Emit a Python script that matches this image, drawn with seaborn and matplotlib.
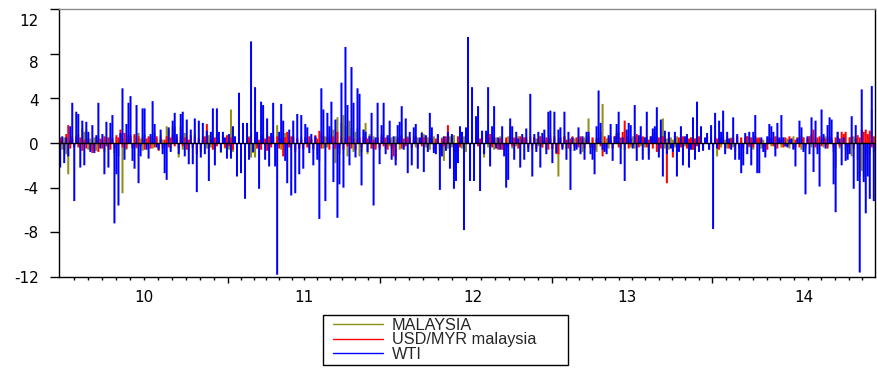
import numpy as np
import pandas as pd
import matplotlib
matplotlib.use("Agg")
import matplotlib.pyplot as plt
import seaborn as sns
from matplotlib.lines import Line2D
from matplotlib.legend_handler import HandlerLine2D
from matplotlib.transforms import ScaledTranslation

# Daily returns (%), 2010-2014, one value per observation
wti = [
    -2.2, 0.6, -1.8, 0.5, -1.2, 1.5, 3.6, -5.2, 2.8, 2.6,
    -2.2, 2.0, -2.0, 1.9, 1.0, -0.8, 1.6, -0.9, 0.7, 3.6,
    -0.5, 0.8, -2.8, 1.9, -2.2, 1.8, 2.5, -7.2, -2.8, -5.6,
    0.9, 4.9, -1.5, 1.7, 3.6, 4.2, -1.6, -2.3, 3.4, -3.6,
    -1.2, 3.1, 3.1, -0.6, -1.4, 0.8, 3.75, 1.7, -0.4, -0.6,
    1.2, -1.0, -2.7, -3.3, 1.4, -0.8, 2.0, 2.7,
    0.8, -1.0, 2.6, 2.8, -1.2, 2.1, -1.9, 1.2, -1.9, 2.2,
    -4.4, 2.0, -1.3, 1.8, -1.0, 1.1, -3.4, 1.0, 3.1, -2.0,
    3.1, 1.0, -0.8, 1.0, 0.5, -1.4, 0.8, -1.4, 1.5, 0.6,
    -3.0, 4.5, -2.7, 1.8, -5.0, 1.8, -1.5, 9.1, -0.8, 5.0,
    1.0, -4.1, 3.7, 3.4, -1.5, 2.2, -2.1, 0.9, 3.6, -2.1,
    -11.8, 1.0, 3.5, 2.0, -1.6, -3.6, 1.2, -4.7,
    2.0, -4.5, 2.6, -2.8, 2.5, -2.3, 1.7, 1.4, -0.9, 0.8,
    -2.0, 0.6, -1.5, -6.8, 4.9, 3.0, -5.2, 2.7, 1.5, 3.7,
    -3.5, 2.1, -6.7, -3.7, 5.4, -4.0, 8.6, 3.4, -2.0, 6.8,
    3.6, -1.3, 4.9, 4.4, -3.8, 1.2, 1.0, -0.8, 0.6, 2.7,
    -5.6, 0.5, 3.6, -1.9, 1.6, 3.6, -1.0, 0.7, 2.0, -1.5,
    0.6, -2.0, 1.6, 1.9, 3.3, -0.6, 2.2, -2.7,
    1.0, -2.0, 1.4, 1.7, -2.3, 0.5, 0.9, -2.6, 0.7, -0.8,
    2.7, 1.4, -0.9, -1.0, 0.8, -4.2, -1.2, 0.6, -0.7, 1.0,
    -2.3, 0.8, -4.1, -3.4, -1.8, 1.5, 1.0, -7.8, 1.4, 9.5,
    -3.4, 5.0, -3.4, 2.4, 3.3, -4.3, 1.1, -1.0, 1.1, 5.0,
    -2.1, 1.5, 3.3, -0.5, 0.5, -0.6, 1.5, -1.2, -4.0, -3.3,
    2.2, 1.5, -1.5, 1.0, 0.4, -2.2, 0.8, -1.5,
    1.3, -0.8, 4.4, -3.0, 0.8, -0.8, 1.0, -2.2, 0.9, 1.2,
    -1.0, 2.8, 2.9, -1.8, 2.8, -0.9, 1.2, 1.4, -0.6, 2.8,
    -1.5, 1.0, -4.2, 0.5, -0.7, -0.6, 1.4, -1.0, 0.6, -1.5,
    1.0, 1.0, -1.0, -1.5, -2.8, 1.5, 4.7, 1.8, -0.6, -0.8,
    -1.0, 0.7, 1.7, -1.6, 0.6, 1.7, 2.8, -1.9, 0.5, -3.4,
    1.2, 1.8, 1.6, -0.5, 3.4, -1.6, 0.7, 1.5,
    -1.5, 0.5, 2.8, -1.5, 0.6, 1.3, 1.5, 3.2, -1.3, 2.1,
    -3.0, 1.1, -1.0, 1.0, -0.5, -0.8, 1.0, -3.0, -0.8, 1.5,
    -2.0, 0.6, 0.8, -2.2, -0.6, 2.3, -1.5, 3.7, -0.8, 1.5,
    -0.7, 0.5, 0.9, -0.6, 1.6, -7.7, 2.7, -0.5, 2.0, 1.0,
    2.9, -1.0, 1.0, 0.4, -0.6, 2.3, -1.5, 0.8, -1.5, -2.7,
    -2.0, 0.9, -1.0, 1.0, -2.0, 1.0, 2.5, -2.7,
    -2.7, 0.5, -0.8, -1.3, 0.6, 1.7, 1.5, 1.0, -1.2, 1.8,
    0.5, 2.5, 0.5, -0.3, -0.4, 0.3, 0.4, -0.6, -2.1, 0.4,
    2.0, 1.4, -0.8, -4.6, 0.6, -1.0, 2.3, -2.6, 2.0, -1.0,
    -3.9, 3.0, 0.8, -0.5, 1.6, 2.3, 2.1, -3.7, -6.2, 1.0,
    0.4, -2.0, 0.5, -1.6, -1.5, -1.0, 2.4, -4.1, 1.6, -3.4,
    -11.6, 4.8, -3.5, -6.3, -3.0, -5.0, 5.1, -5.2,
]

malaysia = [
    0.4, -0.6, 0.5, -1.0, -2.8, 0.3, 0.6, -0.4, 0.5, 0.8,
    -0.5, 1.3, 1.0, 1.2, -0.6, 0.4, -0.3, 0.5, -0.7, 0.6,
    -0.4, 0.3, -0.8, 0.5, -0.5, 0.6, 0.4, -0.9, 0.5, -1.2,
    0.7, -4.5, 0.4, -0.6, 0.8, 0.5, -0.4, 0.6, -0.5, 0.9,
    0.4, -0.7, 0.8, -0.3, 0.5, 0.6, -0.5, 0.9, 0.4, -0.6,
    0.7, 0.3, -0.4, 1.5, 1.2, -0.5, 1.4, 1.5,
    0.6, -1.3, 1.5, -0.6, 0.9, 0.5, -0.7, 0.4, -0.5, 0.8,
    -0.6, 0.5, -0.8, 0.6, 0.4, -0.5, 0.7, -0.4, 0.5, -0.6,
    0.8, 0.4, -0.9, 0.6, -0.5, 0.4, -0.6, 3.0, -0.8, 0.5,
    -0.4, 0.7, -0.6, 0.4, -0.8, 0.5, 0.6, -1.3, -0.9, -1.3,
    0.7, -0.5, 0.6, 0.8, -0.4, 1.0, -0.6, 0.5, 0.7, -0.5,
    1.6, 0.4, -0.6, 0.5, 0.9, -0.4, 0.6, -0.5,
    0.5, -0.6, 0.4, -0.5, 0.6, -0.4, 0.5, 0.3, -0.5, 0.4,
    -0.6, 0.5, -1.0, -1.6, 0.8, -0.5, 0.6, -0.4, 0.7, 0.5,
    1.2, -1.8, 2.3, -1.0, 1.8, 2.5, 1.5, -1.2, 2.0, 1.4,
    -0.8, 1.0, 1.3, -1.2, -0.8, 1.2, 1.8, -1.0, 0.8, -0.5,
    0.6, -0.4, 0.5, -0.6, 0.8, 0.4, -0.5, 0.6, -0.3, 0.5,
    -0.4, 0.6, 0.5, -0.6, 0.7, -0.4, 0.5, 0.6,
    0.4, -0.5, 0.6, -0.4, 0.5, 0.3, 1.0, 0.8, -0.4, 0.5,
    -0.6, 0.4, 0.6, -0.5, 0.3, -0.7, 0.5, -1.6, 0.4, -0.5,
    0.6, -0.4, 0.7, -0.6, 0.5, 0.4, -0.5, 0.6, -0.8, 0.5,
    -0.6, 0.8, -0.4, 0.5, 0.6, -0.5, 0.4, -1.3, 0.6, -0.4,
    0.5, 0.3, -0.6, 0.5, -0.4, 0.6, 0.4, -0.5, 0.3, 0.6,
    1.5, -0.5, 0.4, -0.3, 0.6, -0.5, 0.4, 0.5,
    0.4, -0.5, 0.3, -0.6, 0.5, 0.4, -0.3, 0.6, -0.4, 0.5,
    -0.6, 0.4, 0.7, -0.5, 0.4, -0.6, -3.0, 0.5, -0.4, 0.6,
    -0.5, 0.3, -0.7, 0.5, 0.4, -0.5, 0.6, 0.4, -0.8, 0.5,
    0.6, 2.2, -0.5, 0.4, -0.6, -0.8, 0.5, 1.0, 3.5, -0.6,
    0.4, -0.5, 0.6, -0.4, 0.5, 1.0, 0.9, -0.5, 0.4, -0.6,
    0.5, 0.3, -0.4, 0.6, -0.5, 0.4, 0.6, -0.3,
    0.5, -0.4, 0.6, -1.0, 0.5, 0.8, 1.0, 0.7, -0.8, 0.6,
    2.2, -0.5, 0.4, -0.6, 0.5, 0.3, -0.4, 0.6, -0.5, 0.4,
    0.5, -0.3, 0.6, -0.4, 0.5, -0.6, 0.4, 0.5, -0.3, 0.6,
    -0.5, 0.4, 0.3, -0.6, 0.5, -0.4, 0.6, -1.2, 0.5, -0.4,
    0.6, 0.3, -0.5, 0.4, 0.5, -0.4, -0.8, 0.6, -0.5, 0.4,
    -0.3, 0.5, 0.6, -0.4, 0.5, -0.6, 0.4, 0.5,
    0.4, -0.5, 0.3, -0.4, 0.5, 0.6, -0.3, 0.4, -0.5, 0.6,
    0.3, -0.4, 0.5, -0.3, 0.4, -0.5, 0.3, 0.6, -0.4, 0.5,
    0.4, -0.6, 0.5, -0.5, 0.4, 0.6, -0.4, 0.5, 0.3, -0.6,
    0.4, 0.5, -0.4, 0.6, -0.3, 0.5, 0.4, -0.8, -2.2, 1.0,
    -0.5, 0.4, 0.8, -0.6, -1.0, 0.5, -1.2, 0.6, 0.4, -1.5,
    -3.0, -2.5, -3.0, -1.5, 0.6, -1.0, 3.0, -0.8,
]

usd_myr = [
    0.5, 0.3, -0.6, 0.8, 1.6, -0.5, 0.4, -0.3, 0.6, -0.4,
    0.5, -0.7, 0.3, -0.5, 0.4, -0.6, -0.9, -0.7, 0.5, -0.8,
    0.4, -0.5, 0.6, -0.3, 0.5, -0.6, 0.4, -0.5, 0.7, 0.5,
    1.2, -0.4, 0.9, -0.5, 0.6, 0.7, -0.5, 0.8, -0.4, 0.6,
    -0.3, 0.5, -0.6, 0.4, 0.6, -0.5, 0.3, -0.4, 0.6, -0.7,
    0.4, -0.5, 0.3, 0.6, -0.4, 0.5, 0.7, -0.3,
    0.4, -0.5, 0.6, -0.3, 0.5, -0.6, 0.3, 0.7, -0.4, 0.5,
    -1.0, 0.4, -0.5, 0.3, 0.6, 1.7, -0.5, 0.4, -0.6, 0.5,
    -0.3, 0.4, -0.5, 0.6, -0.4, 0.7, -0.3, 0.5, -0.6, 0.4,
    -0.5, 0.3, -0.4, 0.6, -0.5, 0.4, 0.5, 0.8, -0.4, 0.6,
    -0.5, 0.3, -0.6, 0.5, 0.4, -0.7, 0.6, -0.4, 0.5, -0.3,
    0.6, -0.5, 0.4, -1.2, 0.5, 1.0, -0.4, 0.6,
    0.6, -0.8, 0.4, -0.5, 0.3, -0.6, 0.5, -0.4, 0.6, 0.3,
    -0.5, 0.7, 0.4, 1.1, -0.5, 0.6, -0.4, 0.5, -0.6, 0.4,
    0.6, -0.5, 1.0, -0.4, 0.5, -0.6, 0.4, -0.3, 0.6, -0.5,
    0.4, -0.6, 0.3, 0.5, -0.4, 0.6, 0.5, 0.4, 0.6, -0.5,
    0.3, -0.6, 0.5, -0.4, 0.6, -0.3, 0.5, -0.6, 0.4, -0.5,
    -1.2, -1.5, 0.4, 0.6, -0.5, 0.4, -0.3, 0.5,
    0.5, -0.4, 0.3, 0.6, -0.5, 0.4, -0.3, 0.5, 0.6, -0.4,
    0.5, 0.3, -0.6, 0.4, 0.7, -0.5, 0.4, -0.3, 0.6, 1.6,
    -0.5, 0.4, -0.8, -0.8, 0.6, -0.4, 0.5, -0.6, 0.4, 0.3,
    -0.5, 0.6, -0.4, 0.5, -0.3, 0.4, 0.6, -0.5, 0.4, 0.8,
    0.8, -0.4, 0.5, -0.3, -0.6, 0.4, -0.6, -0.6, 0.5, -0.4,
    0.6, -0.3, 0.5, 0.4, -0.5, 0.6, 0.3, 0.5,
    0.5, -0.4, 0.6, -0.3, 0.5, -0.5, 0.4, 0.6, -0.4, 0.3,
    0.5, -0.6, 0.4, -0.5, 0.6, -1.0, -1.0, 0.5, -0.4, 0.6,
    0.3, -0.5, 0.4, 0.6, -0.3, 0.5, -0.4, 0.6, 0.4, -0.5,
    0.3, 0.6, -0.4, 0.5, -0.6, 0.4, 0.5, -0.3, -1.2, 0.6,
    -0.4, 0.5, 0.3, -0.5, 0.6, 0.8, -0.4, 0.5, 1.0, 2.0,
    0.6, -0.5, 0.4, -0.3, 0.6, 0.8, -0.4, 0.5,
    0.6, 0.5, -0.4, 0.3, 0.6, -0.5, 0.4, -0.8, 0.5, -0.5,
    0.6, 0.4, -3.6, 0.5, -0.4, -1.3, 0.6, -0.3, 0.5, -0.4,
    0.6, 0.3, -0.5, 0.4, 0.5, -0.6, 0.4, -0.3, 0.6, 0.5,
    -0.4, 0.3, 0.6, -0.5, 0.4, -0.3, 0.5, 0.4, -0.6, 0.5,
    0.3, -0.4, 0.6, -0.5, 0.4, 0.5, -0.3, 0.6, -0.4, 0.5,
    -0.5, 0.4, 0.6, -0.3, 0.5, -0.4, 0.6, 0.4,
    0.5, 0.3, -0.4, -0.8, -0.6, 0.5, 0.4, -0.3, 0.6, -0.5,
    0.4, 0.3, -0.4, 0.5, -0.3, 0.6, 0.4, -0.5, 0.3, 0.5,
    -0.4, 0.6, 0.5, -0.3, 0.4, 0.6, 0.8, 1.2, -0.4, 0.5,
    0.6, -0.3, 0.5, 0.4, -0.5, 0.6, 0.3, -0.4, 0.5, 0.6,
    -0.3, 1.0, 0.8, 1.0, -0.4, 0.5, 0.6, -0.5, 0.4, 0.7,
    0.5, 1.2, 1.0, 1.2, 0.8, 1.1, -0.4, 0.6,
]

series_names = ["MALAYSIA", "USD/MYR malaysia", "WTI"]
series_colors = ["#8f8f14", "#ff0000", "#0000ff"]
year_labels = ["10", "11", "12", "13", "14"]
y_ticks = [-12, -8, -4, 0, 4, 8, 12]

assert len(wti) == len(malaysia) == len(usd_myr), (len(wti), len(malaysia), len(usd_myr))

# observation index at which each calendar year starts, plus the end of the sample
year_starts = [0.0, 83.7, 159.3, 244.9, 324.5, 406.0]
label_pos = [41.5, 121.5, 205.5, 282.0, 370.0]

n = len(wti)
obs = np.arange(n)
df = pd.concat(
    [pd.DataFrame({"obs": obs, "value": vals, "series": name})
     for name, vals in zip(series_names, [malaysia, usd_myr, wti])],
    ignore_index=True,
)

sns.set_style("white")
plt.rcParams["font.family"] = ["Liberation Sans", "DejaVu Sans"]
axis_font = ["DejaVu Sans"]

W, H = 877, 368
fig = plt.figure(figsize=(W / 100, H / 100), dpi=100)
ax = fig.add_axes([59 / W, 1 - 277 / H, (875 - 59) / W, (277 - 9) / H])

palette = dict(zip(series_names, series_colors))
# one spike per observation, rising from zero; later series are drawn on top
sns.barplot(
    data=df, x="obs", y="value", hue="series", hue_order=series_names,
    palette=palette, native_scale=True, dodge=False, errorbar=None,
    width=1.0, linewidth=0, saturation=1, legend=False, ax=ax,
)
for bar in ax.patches:
    bar.set_snap(False)
ax.axhline(0, color="black", lw=1.0, zorder=5)

ax.set_xlim(-0.6, n - 0.4)
ax.set_ylim(-12, 12)
ax.set_xlabel("")
ax.set_ylabel("")

ax.set_yticks(y_ticks)
ax.set_yticklabels([str(t) for t in y_ticks], family=axis_font)
ax.tick_params(axis="y", left=True, direction="out", length=6.5, width=1.0,
               pad=8.0, labelsize=11, colors="black")
# top labels sit a little lower than their tick marks
for lab, dy in zip(ax.get_yticklabels(), [0, 0, 0, 1.5, 2, 8, 11]):
    lab.set_transform(lab.get_transform() + ScaledTranslation(0, -dy / 100, fig.dpi_scale_trans))

# year boundaries as long ticks, months as short ticks
ax.set_xticks(year_starts[1:-1])
ax.set_xticklabels([])
months = []
for a, b in zip(year_starts[:-1], year_starts[1:]):
    months.extend(a + (b - a) * k / 12 for k in range(1, 12))
ax.set_xticks(months, minor=True)
ax.tick_params(axis="x", which="major", bottom=True, direction="out", length=4.5, width=1.0, colors="black")
ax.tick_params(axis="x", which="minor", bottom=True, direction="out", length=2.5, width=1.0, colors="black")
for pos, lab in zip(label_pos, year_labels):
    ax.text(pos, -0.05, lab, transform=ax.get_xaxis_transform(), ha="center", va="top",
            fontsize=11, color="black", family=axis_font)

for side in ["left", "bottom", "right"]:
    ax.spines[side].set_color("black")
    ax.spines[side].set_linewidth(1.0)
ax.spines["top"].set_color("#8a8a8a")
ax.spines["top"].set_linewidth(1.0)

handles = [Line2D([], [], color=c, lw=1.0) for c in series_colors]
ax.legend(
    handles, series_names, loc="upper left",
    bbox_to_anchor=(323 / W, 1 - 315 / H, 245 / W, 0.001),
    bbox_transform=fig.transFigure, mode="expand", frameon=True,
    fancybox=False, framealpha=1, edgecolor="black", fontsize=11.7,
    handlelength=3.5, handletextpad=0.55, borderpad=0.2, labelspacing=-0.03,
    borderaxespad=0, handler_map={Line2D: HandlerLine2D(xpad=0.42)},
)
ax.get_legend().get_frame().set_linewidth(1.0)

fig.savefig("out.png", dpi=100)
